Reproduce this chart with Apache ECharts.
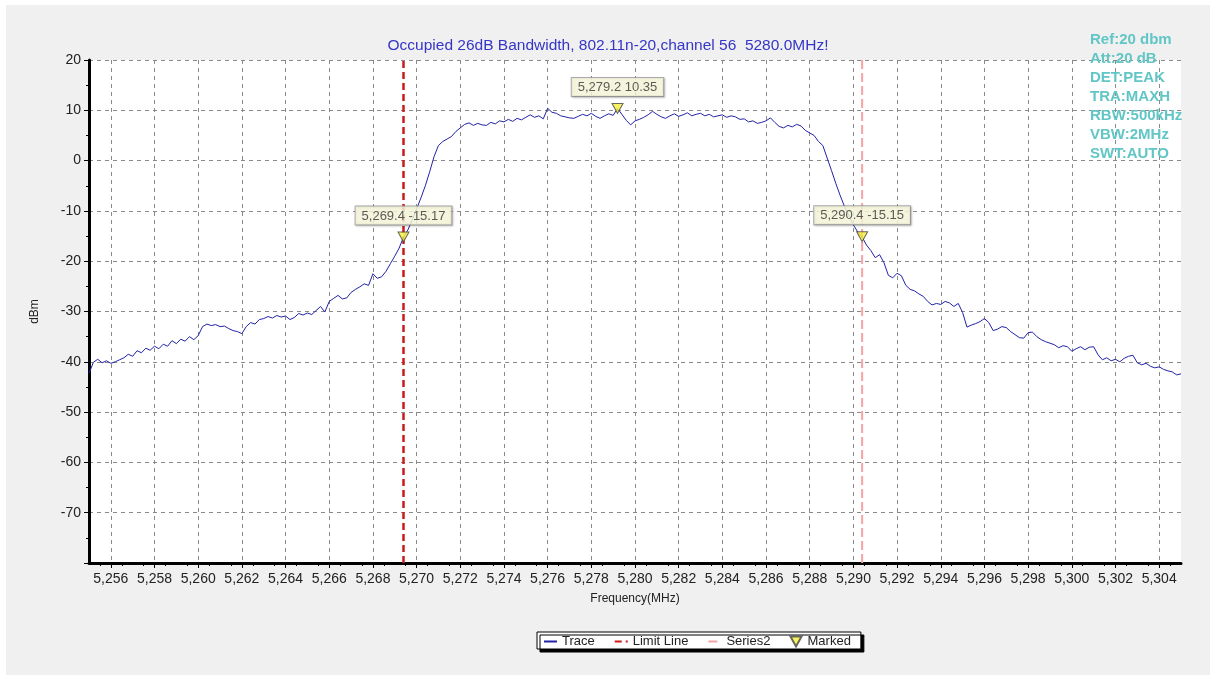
<!DOCTYPE html>
<html>
<head>
<meta charset="utf-8">
<script src="https://cdn.jsdelivr.net/npm/echarts@6/dist/echarts.min.js"></script>
<style>
html,body{margin:0;padding:0;background:#fff}
#chart{width:1216px;height:679px}
</style>
</head>
<body>
<div id="chart"></div>
<script>
// sweep settings (x of each trace point = startFreq + i*stepFreq)
var startFreq = 5255.0;
var stepFreq = 0.2;
var traceValues = [
  -42.3,-40.1,-39.5,-40.2,-39.8,-40.3,-40.0,-39.6,-39.2,-38.5,-38.9,-37.8,-38.2,-37.3,-37.7,-36.9,-37.4,-36.5,-36.9,-35.8,-36.4,-35.5,-35.9,-35.0,-35.6,-34.8,
  -33.0,-32.5,-32.8,-32.6,-33.0,-32.9,-33.4,-33.8,-34.0,-34.4,-33.0,-32.2,-32.5,-31.6,-31.4,-31.0,-31.3,-30.8,-31.1,-30.9,-31.6,-31.2,-30.4,-30.7,-30.3,
  -30.6,-29.8,-29.0,-30.1,-28.0,-27.4,-26.8,-27.5,-27.3,-26.2,-25.6,-25.1,-24.5,-24.8,-22.5,-23.4,-23.1,-22.0,-20.5,-19.0,-17.4,-15.2,-13.8,-11.8,-9.6,
  -7.4,-5.0,-2.2,0.8,3.0,3.8,4.3,4.8,5.8,6.5,7.2,7.5,7.0,7.4,7.1,7.0,7.6,7.3,7.9,7.7,8.2,7.8,8.4,8.1,8.6,
  9.1,8.6,8.9,8.3,10.4,9.6,9.4,8.9,8.7,8.5,8.4,8.8,9.2,8.9,9.4,8.8,8.4,8.9,9.3,9.0,10.35,9.2,8.0,7.1,7.9,
  8.2,8.6,9.1,9.8,9.2,8.7,8.4,8.9,9.3,8.8,9.1,9.5,8.9,9.2,9.4,8.9,9.2,8.7,8.9,9.1,8.6,8.9,8.7,8.2,8.3,
  7.7,7.9,7.4,7.6,7.9,8.5,7.6,6.8,6.5,7.0,6.7,7.2,6.9,6.0,5.5,5.0,3.8,3.0,0.5,-2.0,-4.6,-7.0,-9.2,-11.0,-12.8,
  -14.2,-15.2,-16.8,-17.9,-19.3,-18.7,-20.3,-22.8,-23.3,-22.4,-22.9,-24.8,-25.6,-25.9,-26.5,-27.0,-28.0,-28.7,-28.4,-28.6,-28.0,-28.3,-29.0,-28.4,-30.2,
  -33.1,-32.7,-32.4,-32.0,-31.4,-32.2,-33.8,-33.5,-33.0,-33.2,-34.0,-34.6,-35.2,-35.3,-34.2,-34.1,-35.0,-35.6,-36.0,-36.3,-36.6,-37.2,-36.8,-37.0,-37.9,
  -37.4,-37.0,-37.6,-37.1,-37.0,-38.6,-39.6,-39.2,-39.8,-39.5,-40.0,-39.3,-38.9,-38.7,-40.2,-40.6,-40.3,-40.9,-41.2,-41.0,-41.5,-41.8,-42.0,-42.6,-42.4
];
var limitFreq = 5269.4;
var series2Freq = 5290.4;
var markedPoints = [[5279.2, 10.35], [5269.4, -15.17], [5290.4, -15.15]];
var xTicks = [5256,5258,5260,5262,5264,5266,5268,5270,5272,5274,5276,5278,5280,5282,5284,5286,5288,5290,5292,5294,5296,5298,5300,5302,5304];
var xRange = [5255, 5305];
var yRange = [-80, 20];
var infoLines = ['Ref:20 dbm','Att:20 dB','DET:PEAK','TRA:MAXH','RBW:500kHz','VBW:2MHz','SWT:AUTO'];

function thousands(v){
  var parts = String(v).split('.');
  parts[0] = parts[0].replace(/\B(?=(\d{3})+(?!\d))/g, ',');
  return parts.join('.');
}

var traceData = traceValues.map(function(v, i){
  return [+(startFreq + i * stepFreq).toFixed(1), v];
});

var font = 'Arial, "Liberation Sans", sans-serif';

var graphics = [
  // white frame around the gray panel
  {type:'rect', shape:{x:0,y:0,width:1216,height:5}, style:{fill:'#fff'}, silent:true},
  {type:'rect', shape:{x:0,y:675,width:1216,height:4}, style:{fill:'#fff'}, silent:true},
  {type:'rect', shape:{x:0,y:0,width:6,height:679}, style:{fill:'#fff'}, silent:true},
  {type:'rect', shape:{x:1210,y:0,width:6,height:679}, style:{fill:'#fff'}, silent:true}
];
infoLines.forEach(function(t, i){
  graphics.push({
    type:'text', left:1090, top:32 + i*19, z:100,
    style:{text:t, fill:'#62c6c6', font:'bold 15px ' + font}
  });
});

var hideSymbol = {opacity:0};

var option = {
  backgroundColor:'#f0f0f0',
  animation:false,
  title:{
    text:'Occupied 26dB Bandwidth, 802.11n-20,channel 56  5280.0MHz!',
    left:'center', top:33,
    textStyle:{color:'#3535c8', fontSize:15.5, fontWeight:'normal', fontFamily:font}
  },
  legend:{
    left:537, top:632,
    backgroundColor:'#fff', borderColor:'#000', borderWidth:1,
    shadowColor:'#000', shadowOffsetX:3, shadowOffsetY:3, shadowBlur:0,
    padding:[3,10,1,6], itemGap:19, itemWidth:13, itemHeight:10,
    textStyle:{fontSize:13, color:'#222', fontFamily:font},
    data:[
      {name:'Trace', itemStyle:hideSymbol},
      {name:'Limit Line', itemStyle:hideSymbol},
      {name:'Series2', itemStyle:hideSymbol},
      {name:'Marked', icon:'path://M0,0 L10,0 L5,9 Z'}
    ]
  },
  grid:{left:89, right:35, top:60, bottom:116, show:true, backgroundColor:'#fff', borderWidth:0},
  xAxis:[{
    type:'value', min:xRange[0], max:xRange[1], interval:1,
    name:'Frequency(MHz)', nameLocation:'middle', nameGap:30,
    nameTextStyle:{fontSize:12, color:'#222', fontFamily:font},
    axisLine:{show:true, onZero:false, lineStyle:{color:'#000', width:3}},
    axisTick:{show:true, length:5, customValues:xTicks, lineStyle:{color:'#000'}},
    minorTick:{show:true, splitNumber:2, length:3, lineStyle:{color:'#000'}},
    axisLabel:{customValues:xTicks, color:'#222', fontSize:14, fontFamily:font, margin:9,
      formatter:function(v){ return thousands(v); }},
    splitLine:{show:true, lineStyle:{color:'#8a8a8a', type:[4,4], width:1}}
  }],
  yAxis:[{
    type:'value', min:yRange[0], max:yRange[1], interval:10,
    name:'dBm', nameLocation:'middle', nameGap:48, nameRotate:90,
    nameTextStyle:{fontSize:12, color:'#222', fontFamily:font},
    axisLine:{show:true, onZero:false, lineStyle:{color:'#000', width:3}},
    axisTick:{show:true, length:5, lineStyle:{color:'#000'}},
    minorTick:{show:true, splitNumber:2, length:3, lineStyle:{color:'#000'}},
    axisLabel:{color:'#222', fontSize:14, fontFamily:font, margin:8,
      formatter:function(v){ return v === yRange[0] ? '' : v; }},
    splitLine:{show:true, lineStyle:{color:'#8a8a8a', type:[4,4], width:1}}
  }],
  graphic:graphics,
  series:[
    {
      name:'Trace', type:'line', data:traceData, showSymbol:false, symbol:'none',
      lineStyle:{color:'#2222a8', width:1}, itemStyle:{color:'#2222a8'}, z:3
    },
    {
      name:'Limit Line', type:'line', symbol:'none',
      data:[[limitFreq, yRange[0]], [limitFreq, yRange[1]]],
      lineStyle:{color:'#cc1a1a', width:2.5, type:[7,4]}, itemStyle:{color:'#cc1a1a'}, z:2
    },
    {
      name:'Series2', type:'line', symbol:'none',
      data:[[series2Freq, yRange[0]], [series2Freq, yRange[1]]],
      lineStyle:{color:'#f4a4a4', width:2, type:[9,4]}, itemStyle:{color:'#f4a4a4'}, z:2
    },
    {
      name:'Marked', type:'scatter', data:markedPoints,
      symbol:'path://M0,0 L10,0 L5,9 Z', symbolSize:[11,10],
      itemStyle:{color:'#f5f03a', borderColor:'#444', borderWidth:1}, z:5,
      label:{
        show:true, position:'top', distance:7,
        formatter:function(p){ return thousands(p.value[0]) + ' ' + p.value[1]; },
        color:'#333', fontSize:13, fontFamily:font,
        backgroundColor:'#ffffe1', borderColor:'#9a9a9a', borderWidth:1,
        padding:[3,6,2,6], shadowColor:'rgba(0,0,0,0.25)', shadowOffsetX:1, shadowOffsetY:1, shadowBlur:2
      }
    }
  ]
};

var chart = echarts.init(document.getElementById('chart'));
chart.setOption(option);
</script>
</body>
</html>
